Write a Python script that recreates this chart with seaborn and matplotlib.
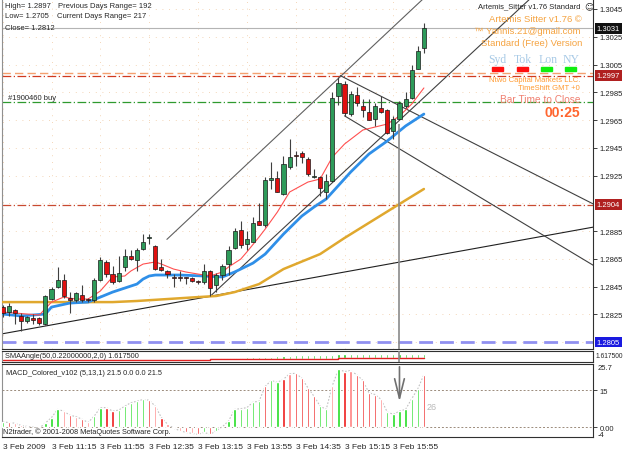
import matplotlib.pyplot as plt
import matplotlib.transforms as mtransforms
from matplotlib.patches import Rectangle
import numpy as np
import pandas as pd
import seaborn as sns

# 5 minute bars, 3 Feb 2009 10:35 .. 16:20 (bar index 0..69)
opens = [1.2830, 1.2827, 1.2828, 1.2824, 1.2820, 1.2822, 1.2822, 1.2818, 1.2836, 1.2845,
         1.2850, 1.2837, 1.2835, 1.2839, 1.2836, 1.2835, 1.2850, 1.2863, 1.2854, 1.2849,
         1.2859, 1.2867, 1.2864, 1.2872, 1.2880, 1.2874, 1.2859, 1.2856, 1.2852, 1.2852,
         1.2852, 1.2851, 1.2849, 1.2848, 1.2856, 1.2846, 1.2853, 1.2861, 1.2873, 1.2886,
         1.2876, 1.2877, 1.2892, 1.2889, 1.2922, 1.2923, 1.2912, 1.2931, 1.2940, 1.2941,
         1.2937, 1.2924, 1.2924, 1.2913, 1.2921, 1.2982, 1.2991, 1.2969, 1.2983, 1.2975,
         1.2971, 1.2966, 1.2974, 1.2972, 1.2957, 1.2966, 1.2975, 1.2981, 1.3002, 1.3017]
highs = [1.2832, 1.2833, 1.2829, 1.2826, 1.2824, 1.2825, 1.2823, 1.2839, 1.2845, 1.2859,
         1.2854, 1.2841, 1.2841, 1.2846, 1.2837, 1.2851, 1.2866, 1.2864, 1.2860, 1.2867,
         1.2872, 1.2871, 1.2873, 1.2883, 1.2883, 1.2875, 1.2865, 1.2857, 1.2854, 1.2856,
         1.2852, 1.2852, 1.2850, 1.2861, 1.2857, 1.2855, 1.2861, 1.2874, 1.2887, 1.2892,
         1.2885, 1.2895, 1.2905, 1.2924, 1.2935, 1.2928, 1.2939, 1.2951, 1.2943, 1.2943,
         1.2938, 1.2930, 1.2925, 1.2926, 1.2985, 1.2996, 1.2993, 1.2986, 1.2989, 1.2980,
         1.2980, 1.2977, 1.2982, 1.2973, 1.2968, 1.2979, 1.2985, 1.3005, 1.3018, 1.3035]
lows = [1.2823, 1.2824, 1.2818, 1.2813, 1.2819, 1.2818, 1.2817, 1.2817, 1.2835, 1.2844,
        1.2837, 1.2826, 1.2834, 1.2834, 1.2834, 1.2834, 1.2849, 1.2852, 1.2847, 1.2848,
        1.2856, 1.2864, 1.2856, 1.2871, 1.2876, 1.2857, 1.2856, 1.2851, 1.2845, 1.2849,
        1.2847, 1.2848, 1.2847, 1.2847, 1.2838, 1.2841, 1.2850, 1.2853, 1.2872, 1.2873,
        1.2871, 1.2877, 1.2889, 1.2888, 1.2915, 1.2913, 1.2911, 1.2930, 1.2932, 1.2934,
        1.2925, 1.2923, 1.2910, 1.2908, 1.2920, 1.2976, 1.2968, 1.2968, 1.2975, 1.2967,
        1.2965, 1.2961, 1.2970, 1.2955, 1.2951, 1.2965, 1.2974, 1.2980, 1.3002, 1.3013]
closes = [1.2826, 1.2831, 1.2826, 1.2820, 1.2823, 1.2821, 1.2819, 1.2838, 1.2843, 1.2850,
          1.2838, 1.2835, 1.2840, 1.2835, 1.2835, 1.2850, 1.2864, 1.2854, 1.2848, 1.2855,
          1.2867, 1.2865, 1.2871, 1.2877, 1.28805, 1.2858, 1.2857, 1.2854, 1.2851, 1.2851,
          1.2851, 1.2849, 1.2848, 1.2856, 1.2844, 1.2853, 1.2860, 1.2871, 1.2885, 1.2875,
          1.2879, 1.2891, 1.2889, 1.2922, 1.2923, 1.2913, 1.2933, 1.2938, 1.2939, 1.2938,
          1.2926, 1.2925, 1.2916, 1.2921, 1.2981, 1.2992, 1.2970, 1.2984, 1.2977, 1.2972,
          1.2965, 1.2975, 1.2971, 1.2956, 1.2966, 1.2977, 1.2980, 1.3001, 1.3015, 1.3031]

# moving averages (read at some bars)
red_ma_idx = [0, 6, 8, 10, 12, 14, 16, 18, 20, 21, 23, 25, 26, 28, 30, 32, 34, 36, 37, 39,
              40, 42, 43, 45, 47, 50, 52, 54, 56, 59, 63, 65, 67, 69]
red_ma = [1.28266, 1.28245, 1.28338, 1.28374, 1.28360, 1.28360, 1.28418, 1.28519, 1.28526,
          1.28562, 1.28612, 1.28627, 1.28612, 1.28576, 1.28555, 1.28540, 1.28526, 1.28555,
          1.28591, 1.28648, 1.28699, 1.28807, 1.28864, 1.28987, 1.29131, 1.29203, 1.29225,
          1.29383, 1.29477, 1.29578, 1.29621, 1.29679, 1.29765, 1.29881]
blue_ma_idx = [0, 3, 7, 8, 11, 14, 16, 18, 20, 22, 23, 24, 25, 29, 33, 36, 38, 39, 41, 43,
               46, 49, 51, 53, 57, 60, 63, 66, 69]
blue_ma = [1.28252, 1.28238, 1.28252, 1.28302, 1.28331, 1.28338, 1.28374, 1.28410, 1.28439,
           1.28468, 1.28504, 1.28526, 1.28533, 1.28533, 1.28526, 1.28519, 1.28555, 1.28576,
           1.28619, 1.28684, 1.28828, 1.28958, 1.29023, 1.29081, 1.29275, 1.29405, 1.29499,
           1.29607, 1.29693]
gold_ma_idx = [0, 18, 22, 27, 32, 35, 38, 42, 46, 52, 56, 65, 69]
gold_ma = [1.28338, 1.28338, 1.28346, 1.28360, 1.28374, 1.28382, 1.28410, 1.28468, 1.28576,
           1.28684, 1.28800, 1.29045, 1.29153]

# trend lines: (bar, price) anchors, drawn as rays to the right
trend_x = [[0, 34], [26.9, 48.7], [34, 56], [55.3, 76], [56, 70]]
trend_y = [[1.2811, 1.2838], [1.2879, 1.2969], [1.2838, 1.2928], [1.2997, 1.29508], [1.2968, 1.2931]]
trend_c = ["#202020", "#606060", "#404040", "#404040", "#404040"]

# MACD_Colored histogram
macd_hist = [2.2, 2.0, 1.7, 0.8, 0.4, 0.1, -0.3, 1.8, 4.0, 7.3, 6.6, 4.9, 4.4, 3.3, 2.0, 4.6,
             8.0, 8.0, 6.6, 7.0, 8.6, 10.0, 10.6, 11.3, 11.0, 8.6, 4.0, 1.3, -0.3, -1.3, -2.0,
             -2.4, -2.8, -2.0, -2.8, -1.3, 0.3, 2.6, 7.3, 7.6, 8.0, 10.2, 10.6, 16.6, 19.0,
             18.2, 19.5, 21.7, 21.9, 19.9, 16.0, 12.6, 8.6, 7.3, 16.9, 23.5, 22.6, 23.0, 21.3,
             19.0, 14.0, 13.3, 11.3, 6.2, 5.3, 6.6, 7.3, 11.6, 15.6, 21.3]
macd_col = "grpprprgggprprpggrrgggggrprprprprgrggggggggrggrprrrrggpgrprrrrpggggg"

# SMAAngle sub window
sma_line_idx = [0, 33, 34, 44, 45, 54, 55, 69]
sma_line = [2.2, 2.2, 2.8, 2.8, 3.4, 3.4, 3.9, 3.9]
sma_hist_idx = list(range(33, 70))
sma_hist = [0.8, 0.8, 0.8, 0.8, 0.8, 1.5, 1.5, 2.0, 2.0, 2.0, 2.5, 2.5, 3.0, 3.0, 3.0, 3.5,
            3.5, 3.5, 3.5, 3.5, 3.5, 4.0, 4.0, 4.0, 4.0, 4.0, 4.0, 4.0, 4.0, 4.0, 4.0, 4.0,
            4.0, 4.0, 4.0, 4.0, 4.0]

time_ticks = [0, 8, 16, 24, 32, 40, 48, 56, 64]
time_labels = ["3 Feb 2009", "3 Feb 11:15", "3 Feb 11:55", "3 Feb 12:35", "3 Feb 13:15",
               "3 Feb 13:55", "3 Feb 14:35", "3 Feb 15:15", "3 Feb 15:55"]
price_ticks = [1.3045, 1.3025, 1.3005, 1.2985, 1.2965, 1.2945, 1.2925, 1.2885, 1.2865,
               1.2845, 1.2825]

sns.set_style("white")
plt.rcParams['font.family'] = ['Liberation Sans', 'DejaVu Sans']

W, H = 625, 452
fig = plt.figure(figsize=(6.25, 4.52), dpi=100)
fig.patch.set_facecolor("white")


def rect(x0, y0, x1, y1):
    return [x0 / W, 1 - y1 / H, (x1 - x0) / W, (y1 - y0) / H]


def ftext(x, y, s, **kw):
    kw.setdefault("va", "center")
    kw.setdefault("fontsize", 5.5)
    fig.text(x / W, 1 - y / H, s, **kw)


XLIM = (-0.11, 96.7)
ax = fig.add_axes(rect(2, 0, 593, 350))
ax_sma = fig.add_axes(rect(2, 352, 593, 363))
ax_macd = fig.add_axes(rect(2, 365, 593, 438))
for a in (ax, ax_sma, ax_macd):
    a.set_xlim(*XLIM)
    a.set_facecolor("white")
    for s in a.spines.values():
        s.set_color("#303030")
        s.set_linewidth(0.8)
    a.spines["left"].set_color("#909090")

ax.set_ylim(1.2800, 1.30522)
ax.spines["top"].set_visible(False)

# faint dotted grid
for t in time_ticks:
    ax.axvline(t, color="#F0C8A0", lw=0.6, ls=(0, (1, 7)), zorder=0)
for p in price_ticks + [1.2905, 1.2805]:
    ax.axhline(p, color="#F0C8A0", lw=0.6, ls=(0, (1, 7)), zorder=0)

# horizontal objects
ax.axhline(1.3031, color="#B4B4B4", lw=0.8, zorder=1)
ax.axhline(1.29990, color="#F4A070", lw=1.0, ls=(0, (6, 3)), zorder=1)
ax.axhline(1.29970, color="#D03A20", lw=0.9, ls=(0, (7, 2, 1, 2)), zorder=1)
ax.axhline(1.29780, color="#2E9A2E", lw=0.9, ls=(0, (7, 2, 1, 2)), zorder=1)
ax.axhline(1.29040, color="#C84A30", lw=0.9, ls=(0, (7, 2, 1, 2)), zorder=1)
ax.axhline(1.28050, color="#9090F0", lw=2.0, ls=(0, (5, 2.5)), zorder=1)

# trend lines
for xs, ys, c in zip(trend_x, trend_y, trend_c):
    k = (ys[1] - ys[0]) / (xs[1] - xs[0])
    ax.plot([xs[0], 100], [ys[0], ys[0] + k * (100 - xs[0])], color=c, lw=0.8, zorder=2)

# moving averages
sns.lineplot(x=gold_ma_idx, y=gold_ma, ax=ax, color="#E0A82E", lw=1.8, zorder=3)
sns.lineplot(x=blue_ma_idx, y=blue_ma, ax=ax, color="#2F8FE8", lw=2.0, zorder=3)
sns.lineplot(x=red_ma_idx, y=red_ma, ax=ax, color="#FF5050", lw=0.8, zorder=3)

# candles
df = pd.DataFrame({"o": opens, "h": highs, "l": lows, "c": closes})
df["i"] = np.arange(len(df))
up = df["c"] >= df["o"]
lo = df[["o", "c"]].min(axis=1)
hi = (df["c"] - df["o"]).abs().clip(lower=0.00003)
ax.vlines(df["i"], df["l"], df["h"], color="#404040", lw=0.8, zorder=4)
ax.bar(df["i"], hi, bottom=lo, width=0.68,
       color=np.where(up, "#2E9B5A", "#E01010"), edgecolor="#1A1A1A", lw=0.5, zorder=5)

# vertical line with arrow into MACD
ax.vlines(65, 1.2800, 1.2962, color="#8A8A8A", lw=1.2, zorder=6)
ax_sma.axvline(65, color="#8A8A8A", lw=1.2, zorder=6)

# price axis
ax.yaxis.tick_right()
ax.set_yticks(price_ticks)
ax.set_yticklabels([f"{p:.4f}" for p in price_ticks])
ax.tick_params(axis="y", length=3, width=0.6, labelsize=5.5, pad=2, colors="#202020")
ax.set_xticks([])
ax.set_xlabel("")
ax.set_ylabel("")

tr = mtransforms.blended_transform_factory(ax.transAxes, ax.transData)
for val, fc in [(1.3031, "#111111"), (1.2997, "#B02020"), (1.2904, "#B02020"), (1.2805, "#1A1AE0")]:
    ax.text(1.006, val, f"{val:.4f}", transform=tr, ha="left", va="center", color="white",
            fontsize=5.5, zorder=10, clip_on=False,
            bbox=dict(boxstyle="square,pad=0.25", fc=fc, ec="none"))

# SMAAngle window
ax_sma.set_ylim(0, 11)
sns.lineplot(x=sma_line_idx, y=sma_line, ax=ax_sma, color="#E02020", lw=1.0,
             drawstyle="steps-post")
sma_cols = ["#FFA0A0"] * 5 + ["#20D020"] * (len(sma_hist) - 5)
sma_bottom = np.interp(sma_hist_idx, sma_line_idx, sma_line)
ax_sma.bar(sma_hist_idx, sma_hist, bottom=sma_bottom, width=0.35, color=sma_cols)
ax_sma.set_xticks([])
ax_sma.set_yticks([])
ax_sma.set_xlabel("")
ax_sma.set_ylabel("")
ax_sma.text(0.3, 6.0, "SMAAngle(50,0.22000000,2,0) 1.617500", fontsize=5.3, va="center")

# MACD window
ax_macd.set_ylim(-3.87, 25.65)
ax_macd.axhline(15, color="#9B8B7B", lw=0.7, ls=(0, (2, 2)))
ax_macd.axhline(0, color="#9B8B7B", lw=0.7, ls=(0, (2, 2)))
cmap = {"g": "#22DD22", "r": "#EE1818", "p": "#FF8080"}
ax_macd.bar(np.arange(len(macd_hist)), macd_hist, width=0.38,
            color=[cmap[c] for c in macd_col], zorder=3)
ax_macd.plot(np.arange(len(macd_hist)), macd_hist, color="#C0C0C0", lw=0.8,
             ls=(0, (1.5, 1.5)), zorder=2)
ax_macd.annotate("", xy=(65, 9.3), xytext=(65, 25.65),
                 arrowprops=dict(arrowstyle="->,head_length=1.4,head_width=0.35",
                                 color="#707070", lw=1.2, mutation_scale=10))
ax_macd.yaxis.tick_right()
ax_macd.set_yticks([15, 0])
ax_macd.set_yticklabels(["15", "0.00"])
ax_macd.tick_params(axis="y", length=3, width=0.6, labelsize=5.5, pad=2)
ax_macd.set_xticks(time_ticks)
ax_macd.set_xticklabels(time_labels)
ax_macd.tick_params(axis="x", length=3, width=0.6, labelsize=6, pad=1)
for lab in ax_macd.get_xticklabels():
    lab.set_ha("left")
ax_macd.set_xlabel("")
ax_macd.set_ylabel("")
ax_macd.text(0.5, 22.3, "MACD_Colored_v102 (5,13,1) 21.5 0.0 0.0 21.5", fontsize=5.3, va="center")
ax_macd.text(0.0, -1.6, "N2trader, \u00a9 2001-2008 MetaQuotes Software Corp.", fontsize=5.3,
             va="center")
ax_macd.text(69.5, 8.3, "26", fontsize=6.5, color="#B8B8B8", va="center")

ftext(598, 369, "25.7")
ftext(598, 436, "-4")
ftext(596, 357, "1.617500", fontsize=4.8)

# text overlays on the price chart
ftext(5, 6, "High= 1.2897")
ftext(58, 6, "Previous Days Range= 192")
ftext(5, 17, "Low= 1.2705")
ftext(57, 17, "Current Days Range= 217")
ftext(5, 28, "Close= 1.2812")
ftext(8, 98, "#1900460 buy")

ftext(581, 7, "Artemis_Sitter v1.76 Standard", ha="right")
ftext(589, 7, "\u263a", fontsize=6.5, ha="center", family="DejaVu Sans")
orange = "#F5A340"
ftext(582, 19, "Artemis Sitter v1.76 \u00a9", ha="right", color=orange, fontsize=6.8)
ftext(580, 32, "\u2122 Yannis.21@gmail.com", ha="right", color=orange, fontsize=6.8)
ftext(582, 44, "Standard (Free) Version", ha="right", color=orange, fontsize=6.8)
for x, s in [(497, "Syd"), (523, "Tok"), (548, "Lon"), (571, "NY")]:
    ftext(x, 60, s, ha="center", color="#A8CAE6", fontsize=8.5, family="Liberation Serif")
for x0, c in [(492, "#FF1010"), (517, "#FF1010"), (541, "#10EE10"), (565, "#10EE10")]:
    fig.patches.append(Rectangle((x0 / W, 1 - 72 / H), 11 / W, 4 / H, transform=fig.transFigure,
                                 color=c, zorder=10))
ftext(580, 80, "Ntwo Capital Markets LLC.", ha="right", color="#FF9A30", fontsize=5.5)
ftext(580, 88, "TimeShift GMT +0", ha="right", color="#FF9A30", fontsize=5.5)
ftext(580, 100, "Bar Time to Close", ha="right", color="#F08070", fontsize=7.3)
ftext(580, 113, "00:25", ha="right", color="#FF6630", fontsize=10, weight="bold")

plt.savefig("out.png", dpi=100)
